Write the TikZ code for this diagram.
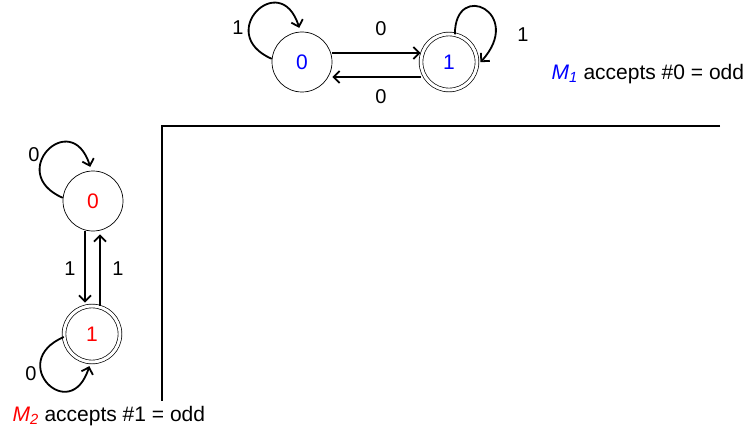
\documentclass[tikz,border=0pt]{standalone}
\usepackage{fontspec}
\setmainfont{Liberation Sans}
\usepackage{xcolor}
\usetikzlibrary{arrows.meta}

\begin{document}
\begin{tikzpicture}[x=1pt,y=-1pt,>={Straight Barb[length=6pt,width=12pt]},
		state/.style={circle,draw,line width=0.7pt,minimum size=60pt,inner sep=0pt,font=\fontsize{21}{23}\selectfont},
		accept/.style={state,double,double distance=3pt,minimum size=56pt},
		edge/.style={->,line width=1.8pt},
		lab/.style={font=\fontsize{20}{22}\selectfont},
		caption/.style={anchor=west,font=\fontsize{21}{23}\selectfont}]
	
	\useasboundingbox (0,0) rectangle (747,433);
	
	% M1: counts the 0s
	\begin{scope}
		\node[state] (s0) at (302,62) {\textcolor{blue}{0}};
		\node[accept] (s1) at (449,62) {\textcolor{blue}{1}};
		\draw[edge] ([yshift=9pt]s0.east) -- ([yshift=9pt]s1.west);
		\draw[edge] ([yshift=-15pt]s1.west) -- ([yshift=-15pt]s0.east);
		\draw[edge,shorten >=4pt] (s0.174) .. controls +(-58,-25) and +(-20,-64) .. (s0.93);
		\draw[edge,shorten >=5pt] (s1.78) .. controls +(0,-55) and +(48,-53) .. (s1.-8);
		\node[lab] (a01) at (381,29) {0};
		\node[lab] (a10) at (381,97) {0};
		\node[lab] (a00) at (238,28) {1};
		\node[lab] (a11) at (523,35) {1};
		\node[caption] (c1) at (548,74) {\textcolor{blue}{\itshape M\textsubscript{1}} accepts \#0 = odd};
	\end{scope}
	
	% M2: counts the 1s
	\begin{scope}
		\node[state] (l0) at (93,201) {\textcolor{red}{0}};
		\node[accept] (l1) at (92,334) {\textcolor{red}{1}};
		\draw[edge,shorten >=3pt] ([xshift=-8pt]l0.south) -- ([xshift=-8pt]l0.south |- l1.north);
		\draw[edge,shorten >=3pt] ([xshift=8pt]l1.north) -- ([xshift=8pt]l1.north |- l0.south);
		\draw[edge,shorten >=4pt] (l0.174) .. controls +(-58,-25) and +(-20,-64) .. (l0.93);
		\draw[edge,shorten >=4pt] (l1.-174) .. controls +(-58,25) and +(-20,64) .. (l1.-93);
		\node[lab] (b01) at (70,269) {1};
		\node[lab] (b10) at (118,269) {1};
		\node[lab] (b00) at (34,155) {0};
		\node[lab] (b11) at (31,374) {0};
		\node[caption] (c2) at (9,416) {\textcolor{red}{\itshape M\textsubscript{2}} accepts \#1 = odd};
	\end{scope}
	
	% corner
	\draw[line width=1.8pt] (720,126) -- (162,126) -- (162,401);
	
\end{tikzpicture}
\end{document}
